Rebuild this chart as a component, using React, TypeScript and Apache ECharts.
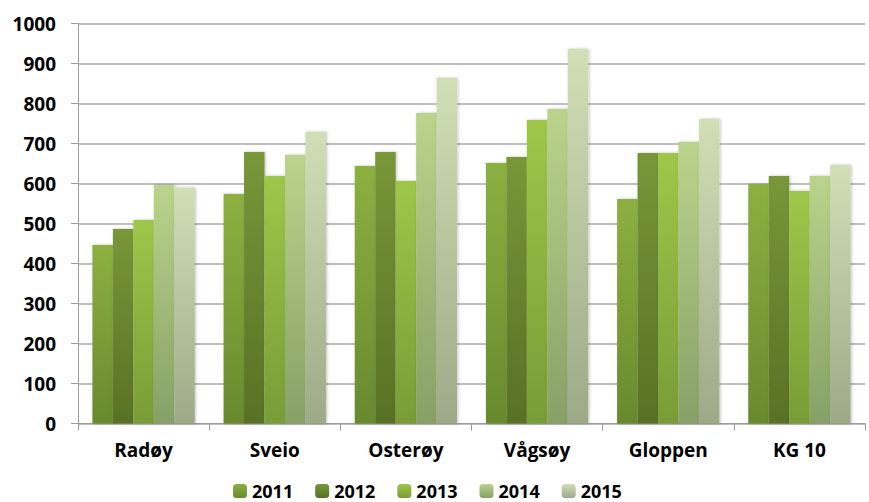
import React, { useEffect, useRef } from "react";
import * as echarts from "echarts";

const categories = ["Radøy", "Sveio", "Osterøy", "Vågsøy", "Gloppen", "KG 10"];
const years = ["2011", "2012", "2013", "2014", "2015"];
const v2011 = [446, 574, 644, 651, 561, 599];
const v2012 = [486, 679, 679, 666, 676, 619];
const v2013 = [509, 619, 606, 759, 676, 581];
const v2014 = [596, 671, 776, 786, 704, 619];
const v2015 = [590, 729, 864, 936, 761, 646];
const yTicks = [0, 100, 200, 300, 400, 500, 600, 700, 800, 900, 1000];

const seriesValues = [v2011, v2012, v2013, v2014, v2015];
const gradients: [string, string][] = [
  ["#8cb040", "#688a2e"],
  ["#779739", "#587125"],
  ["#9ec749", "#789c36"],
  ["#bad48c", "#87a066"],
  ["#d0dfb5", "#9caa88"],
];

export default function App() {
  const ref = useRef<HTMLDivElement>(null);
  useEffect(() => {
    if (!ref.current) return;
    const chart = echarts.init(ref.current, undefined, { renderer: "svg" });
    const font = "'Open Sans', 'Noto Sans', sans-serif";
    chart.setOption({
      animation: false,
      grid: { left: 78, right: 4, top: 23.5, bottom: 78.5, containLabel: false },
      legend: {
        data: years,
        top: 482,
        left: 233,
        padding: 0,
        itemWidth: 14,
        itemHeight: 14,
        itemGap: 22,
        textStyle: { fontFamily: font, fontWeight: "bold", fontSize: 18, lineHeight: 16, color: "#000" },
      },
      xAxis: {
        type: "category",
        data: categories,
        axisLine: { lineStyle: { color: "#9c9c9c", width: 1 } },
        axisTick: { show: true, length: 7, lineStyle: { color: "#9c9c9c" } },
        axisLabel: { fontFamily: font, fontWeight: "bold", fontSize: 19, color: "#000", margin: 17 },
      },
      yAxis: {
        type: "value",
        min: yTicks[0],
        max: yTicks[yTicks.length - 1],
        interval: 100,
        axisLine: { show: true, lineStyle: { color: "#9c9c9c", width: 1 } },
        axisTick: { show: true, length: 7, lineStyle: { color: "#9c9c9c" } },
        splitLine: { lineStyle: { color: "#aaaaaa", width: 1.5 } },
        axisLabel: {
          fontFamily: font,
          fontWeight: "bold",
          fontSize: 19,
          color: "#000",
          margin: 22,
          formatter: (v: number) => String(v),
        },
      },
      series: years.map((y, i) => ({
        name: y,
        type: "bar",
        data: seriesValues[i],
        barGap: "0%",
        barCategoryGap: "22%",
        itemStyle: {
          color: new echarts.graphic.LinearGradient(0, 0, 0, 1, [
            { offset: 0, color: gradients[i][0] },
            { offset: 1, color: gradients[i][1] },
          ]),
          shadowColor: "rgba(0,0,0,0.25)",
          shadowBlur: 3,
          shadowOffsetX: 1,
          shadowOffsetY: 0,
        },
      })),
    });
    return () => chart.dispose();
  }, []);
  return <div ref={ref} style={{ width: 869, height: 502, position: "absolute", left: 0, top: 0 }} />;
}
